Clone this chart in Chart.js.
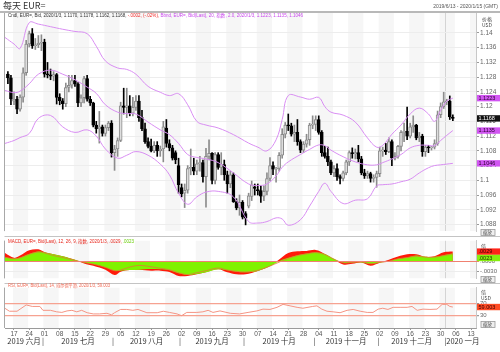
<!DOCTYPE html>
<html>
<head>
<meta charset="utf-8">
<title>每天 EUR=</title>
<script src="https://cdn.jsdelivr.net/npm/chart.js@4.4.1/dist/chart.umd.min.js"></script>
<style>
  html, body { margin: 0; padding: 0; background: #fff; }
  #wrap { position: relative; width: 500px; height: 352px; overflow: hidden; }
  canvas { position: absolute; left: 0; }
</style>
</head>
<body>
<div id="wrap">
  <canvas id="cPrice" width="500" height="236" style="top:0px"></canvas>
  <canvas id="cMacd" width="500" height="47" style="top:236px"></canvas>
  <canvas id="cRsi" width="500" height="69" style="top:283px"></canvas>
</div>
<script>
// ---- data (trading-day index, 0 = Mon 2019-06-17) ----
const firstDay = -2; // 2019-06-13
const weekLabels = ['17','24','01','08','15','22','29','05','12','19','26','02','09','16','23','30',
  '07','14','21','28','04','11','18','25','02','09','16','23','30','06','13'];
const monthNames = ['2019 六月','2019 七月','2019 八月','2019 九月','2019 十月','2019 十一月','2019 十二月','2020 一月'];
const monthStart = [-2, 10, 33, 55, 76, 99, 120, 142];

const openP = [
  1.1288,1.1278,1.1215,1.1220,1.1193,1.1226,1.1292,1.1370,1.1398,1.1365,
  1.1368,1.1372,1.1375,1.1288,1.1286,1.1283,1.1287,1.1225,1.1216,1.1208,
  1.1252,1.1258,1.1271,1.1262,1.1210,1.1224,1.1276,1.1220,1.1210,1.1150,
  1.1140,1.1145,1.1127,1.1143,1.1155,1.1075,1.1085,1.1108,1.1202,1.1198,
  1.1202,1.1182,1.1198,1.1215,1.1170,1.1140,1.1105,1.1092,1.1080,1.1095,
  1.1080,1.1085,1.1142,1.1100,1.1088,1.1075,1.1040,1.0980,1.0965,1.0973,
  1.1032,1.1035,1.1025,1.1045,1.1048,1.1010,1.1065,1.1073,1.1000,1.1070,
  1.1035,1.1043,1.1015,1.0990,1.1015,1.0942,1.0925,1.0940,1.0910,1.0930,
  1.0956,1.0982,1.0975,1.0972,1.0957,1.0970,1.1005,1.1040,1.1030,1.1032,
  1.1068,1.1125,1.1150,1.1148,1.1125,1.1130,1.1105,1.1082,1.1098,1.1110,
  1.1150,1.1152,1.1165,1.1130,1.1075,1.1065,1.1050,1.1020,1.1032,1.1010,
  1.1005,1.1020,1.1050,1.1075,1.1072,1.1075,1.1058,1.1020,1.1012,1.1018,
  1.1005,1.1008,1.1018,1.1080,1.1082,1.1078,1.1105,1.1060,1.1065,1.1092,
  1.1130,1.1133,1.1120,1.1145,1.1150,1.1115,1.1120,1.1078,1.1090,1.1088,
  1.1090,1.1100,1.1178,1.1200,1.1213,1.1215,1.1170];
const highP = [
  1.1295,1.1285,1.1240,1.1228,1.1232,1.1305,1.1380,1.1405,1.1412,1.1385,
  1.1393,1.1395,1.1383,1.1320,1.1302,1.1295,1.1290,1.1235,1.1222,1.1264,
  1.1285,1.1285,1.1285,1.1265,1.1232,1.1282,1.1285,1.1228,1.1212,1.1160,
  1.1187,1.1150,1.1150,1.1160,1.1162,1.1095,1.1115,1.1212,1.1250,1.1250,
  1.1230,1.1225,1.1230,1.1230,1.1190,1.1155,1.1115,1.1112,1.1105,1.1105,
  1.1093,1.1160,1.1165,1.1110,1.1095,1.1080,1.1060,1.0990,1.0990,1.1040,
  1.1085,1.1060,1.1055,1.1065,1.1055,1.1087,1.1110,1.1075,1.1075,1.1075,
  1.1075,1.1055,1.1025,1.1025,1.1020,1.0950,1.0960,1.0945,1.0915,1.0965,
  1.0998,1.0990,1.0990,1.0985,1.0985,1.1020,1.1062,1.1050,1.1035,1.1075,
  1.1140,1.1157,1.1180,1.1155,1.1150,1.1165,1.1110,1.1105,1.1125,1.1155,
  1.1175,1.1175,1.1175,1.1135,1.1092,1.1090,1.1055,1.1040,1.1045,1.1015,
  1.1025,1.1055,1.1080,1.1088,1.1085,1.1095,1.1065,1.1030,1.1025,1.1022,
  1.1015,1.1025,1.1090,1.1090,1.1100,1.1115,1.1110,1.1075,1.1095,1.1135,
  1.1155,1.1199,1.1155,1.1175,1.1152,1.1130,1.1125,1.1095,1.1095,1.1092,
  1.1110,1.1188,1.1210,1.1239,1.1220,1.1229,1.1178];
const lowP = [
  1.1262,1.1205,1.1205,1.1181,1.1188,1.1212,1.1285,1.1362,1.1358,1.1355,
  1.1360,1.1352,1.1280,1.1278,1.1273,1.1270,1.1207,1.1205,1.1193,1.1200,
  1.1240,1.1250,1.1255,1.1200,1.1200,1.1210,1.1215,1.1203,1.1145,1.1128,
  1.1101,1.1120,1.1120,1.1135,1.1063,1.1027,1.1065,1.1105,1.1180,1.1170,
  1.1175,1.1175,1.1190,1.1160,1.1135,1.1100,1.1088,1.1077,1.1075,1.1065,
  1.1065,1.1050,1.1090,1.1080,1.1055,1.1045,1.0965,1.0955,1.0926,1.0965,
  1.1015,1.1015,1.1015,1.1025,1.0995,1.0927,1.1055,1.0990,1.0990,1.1030,
  1.1015,1.1000,1.0965,1.0980,1.0940,1.0920,1.0905,1.0895,1.0879,1.0925,
  1.0945,1.0960,1.0960,1.0940,1.0945,1.0960,1.0998,1.1015,1.0995,1.1025,
  1.1060,1.1115,1.1135,1.1120,1.1105,1.1095,1.1075,1.1075,1.1090,1.1095,
  1.1140,1.1135,1.1125,1.1065,1.1060,1.1040,1.1015,1.1010,1.1000,1.0990,
  1.0998,1.1015,1.1040,1.1060,1.1058,1.1050,1.1015,1.1005,1.1005,1.0995,
  1.0995,1.0981,1.1010,1.1065,1.1070,1.1075,1.1040,1.1055,1.1060,1.1080,
  1.1105,1.1110,1.1115,1.1130,1.1110,1.1105,1.1065,1.1065,1.1075,1.1082,
  1.1085,1.1095,1.1170,1.1195,1.1205,1.1165,1.1162];
const closeP = [
  1.1278,1.1221,1.1220,1.1193,1.1226,1.1292,1.1370,1.1398,1.1365,1.1368,
  1.1372,1.1372,1.1288,1.1286,1.1283,1.1287,1.1225,1.1216,1.1208,1.1252,
  1.1258,1.1271,1.1262,1.1210,1.1224,1.1276,1.1220,1.1210,1.1150,1.1140,
  1.1145,1.1127,1.1143,1.1155,1.1075,1.1085,1.1108,1.1202,1.1198,1.1202,
  1.1182,1.1198,1.1215,1.1170,1.1140,1.1105,1.1092,1.1080,1.1095,1.1080,
  1.1085,1.1145,1.1100,1.1088,1.1060,1.1055,1.0988,1.0963,1.0973,1.1032,
  1.1035,1.1025,1.1045,1.1048,1.1010,1.1065,1.1073,1.1000,1.1070,1.1035,
  1.1043,1.1015,1.0990,1.1015,1.0942,1.0925,1.0940,1.0900,1.0897,1.0958,
  1.0988,1.0978,1.0972,1.0957,1.0970,1.1005,1.1040,1.1030,1.1032,1.1068,
  1.1125,1.1150,1.1148,1.1125,1.1130,1.1105,1.1082,1.1098,1.1110,1.1150,
  1.1152,1.1165,1.1130,1.1075,1.1065,1.1050,1.1020,1.1032,1.1010,1.1005,
  1.1020,1.1050,1.1075,1.1072,1.1075,1.1058,1.1020,1.1012,1.1018,1.1005,
  1.1008,1.1018,1.1080,1.1082,1.1078,1.1105,1.1060,1.1065,1.1092,1.1130,
  1.1133,1.1120,1.1145,1.1150,1.1115,1.1120,1.1078,1.1090,1.1088,1.1090,
  1.1100,1.1178,1.1200,1.1213,1.1215,1.1172,1.1168];

// Bollinger band (20, 2.0)
const bbX = [-3,0,2,5,8,12,16,20,24,27,30,34,37,40,44,48,51,54,57,60,63,67,72,77,80,
  83,86,88,90,94,97,100,102,104,108,112,116,119,121,124,127,130,133,136,138,140,142,144];
const bbUpper = [1.1388,1.1370,1.1358,1.1428,1.1424,1.1417,1.1410,1.1404,1.1398,1.1364,
  1.1324,1.1305,1.1301,1.1288,1.1255,1.1239,1.1230,1.1235,1.1205,1.1160,1.1150,1.1142,
  1.1124,1.1101,1.1090,1.1080,1.1110,1.1165,1.1230,1.1226,1.1220,1.1225,1.1200,1.1185,
  1.1177,1.1158,1.1115,1.1090,1.1095,1.1125,1.1150,1.1180,1.1196,1.1180,1.1160,1.1190,1.1215,1.1223];
const bbMid = [1.1244,1.1238,1.1242,1.1262,1.1288,1.1299,1.1288,1.1273,1.1253,1.1236,
  1.1205,1.1185,1.1181,1.1180,1.1158,1.1137,1.1124,1.1100,1.1070,1.1062,1.1058,1.1048,
  1.1020,1.0990,1.0986,1.0990,1.1012,1.1035,1.1050,1.1070,1.1084,1.1096,1.1094,1.1082,
  1.1064,1.1050,1.1042,1.1042,1.1048,1.1058,1.1070,1.1088,1.1095,1.1095,1.1094,1.1108,1.1122,1.1135];
const bbLower = [1.1100,1.1108,1.1116,1.1127,1.1168,1.1176,1.1145,1.1130,1.1137,1.1120,
  1.1085,1.1060,1.1068,1.1078,1.1068,1.1044,1.1015,1.0965,1.0935,1.0955,1.0968,1.0970,
  1.0955,1.0888,1.0884,1.0888,1.0898,1.0895,1.0878,1.0893,1.0930,1.0970,1.0992,1.0970,
  1.0937,1.0946,1.0950,1.0985,1.0988,1.0990,1.0996,1.1003,1.1020,1.1034,1.1040,1.1042,1.1044,1.1046];

// MACD (12, 26, 9)
const macdX = [-3,0,2,5,8,10,13,16,20,23,26,30,33,35,38,41,45,48,51,54,57,60,63,67,70,
  73,76,80,84,87,90,93,96,99,102,105,108,111,114,117,120,123,126,129,132,135,138,141,144];
const macdRed = [0.0025,0.0010,0.0017,0.0033,0.0036,0.0028,0.0021,0.0015,0.0004,-0.0007,
  -0.0014,-0.0026,-0.0042,-0.0032,-0.0027,-0.0026,-0.0029,-0.0029,-0.0033,-0.0045,
  -0.0045,-0.0040,-0.0034,-0.0025,-0.0034,-0.0040,-0.0040,-0.0030,-0.0015,0.0005,
  0.0025,0.0030,0.0031,0.0034,0.0022,0.0005,-0.0010,-0.0008,-0.0004,-0.0014,
  -0.0005,0.0004,0.0014,0.0021,0.0021,0.0013,0.0015,0.0027,0.0029];
const macdGreen = [0.0012,0.0008,0.0011,0.0022,0.0029,0.0027,0.0021,0.0015,0.0004,-0.0004,
  -0.0009,-0.0019,-0.0029,-0.0029,-0.0027,-0.0026,-0.0024,-0.0025,-0.0028,-0.0037,
  -0.0042,-0.0039,-0.0034,-0.0025,-0.0028,-0.0032,-0.0034,-0.0030,-0.0015,0.0000,
  0.0010,0.0018,0.0023,0.0027,0.0022,0.0007,-0.0005,-0.0004,-0.0004,-0.0008,
  -0.0004,0.0000,0.0007,0.0011,0.0017,0.0013,0.0013,0.0018,0.0023];
const macdSignal = [0.0012,0.0007,0.0010,0.0021,0.0028,0.0025,0.0017,0.0011,0.0002,-0.0004,
  -0.0009,-0.0019,-0.0029,-0.0027,-0.0018,-0.0013,-0.0017,-0.0022,-0.0026,-0.0035,
  -0.0041,-0.0035,-0.0029,-0.0021,-0.0027,-0.0031,-0.0033,-0.0028,-0.0015,-0.0003,
  0.0008,0.0017,0.0022,0.0026,0.0020,0.0006,-0.0005,-0.0004,-0.0002,-0.0008,
  -0.0004,0.0000,0.0007,0.0011,0.0015,0.0012,0.0012,0.0017,0.0022];

// RSI (14)
const rsiX = [-3,-1.5,1,2,4,6,8.5,9.5,12,14,15.7,17.4,19,20.6,22.2,24,26,28,30.5,32,33,35,37,39,40.7,
  43.6,47,49,51,53.5,55,56.7,60,62,63.7,65.3,67.6,71,74,76.8,79.7,81.7,84,86.3,88.3,90.6,92.9,94.8,
  98,99.4,101,102.7,104.7,107,109.3,111.3,113.6,115.9,117.8,119.5,121,122.7,124.4,126.7,129,130.6,
  132.3,134.2,136.5,138.8,140.5,142,143,144];
const rsiV = [55,45,45,52,66,61,61,48,48,43,41,46,48,43,48,40,36,36,38,33,40,51,51,48,51,
  40,40,45,41,36,30,41,41,43,48,41,46,38,36,41,46,52,51,58,68,63,58,55,
  61,63,52,45,43,40,48,51,45,41,41,52,55,51,58,58,58,61,
  48,52,51,52,68,68,61,59.003];

// ---- layout / style ----
const X_MIN = -2.95, X_MAX = 151.6;
const SANS = '"Liberation Sans", "Noto Sans CJK SC", sans-serif';
const CJK = '"Noto Sans CJK SC", "Liberation Sans", sans-serif';
const BB_COLOR = '#d98ef3';
Chart.defaults.font.family = SANS;
Chart.defaults.animation = false;

const pts = (xs, ys) => xs.map((x, i) => ({ x, y: ys[i] }));
const weekIdx = weekLabels.map((_, i) => i * 5);
const dayX = closeP.map((_, i) => i + firstDay);
const isUp = closeP.map((c, i) => c >= openP[i]);

function rightAxis(extra) {
  return Object.assign({
    position: 'right',
    afterFit: s => { s.width = 24; },
    ticks: { color: '#666', font: { size: 6.5 }, padding: 1 },
    grid: { color: '#ededed', tickLength: 3, tickColor: '#999' },
    border: { color: '#c8c8c8' }
  }, extra);
}
const hiddenX = { type: 'linear', min: X_MIN, max: X_MAX, display: false, offset: false };

// weekly shading + year divider
function paper(chart) {
  const { ctx, chartArea: a, scales: { x } } = chart;
  ctx.save();
  ctx.beginPath();
  ctx.rect(a.left, a.top, a.right - a.left, a.bottom - a.top);
  ctx.clip();
  ctx.fillStyle = '#f6f6f6';
  weekIdx.forEach((w, i) => {
    if (i % 2) return;
    const x0 = x.getPixelForValue(w - 0.35), x1 = x.getPixelForValue(w + 4.65);
    ctx.fillRect(x0, a.top, x1 - x0, a.bottom - a.top);
  });
  const xy = Math.round(x.getPixelForValue(monthStart[7] - 0.5)) + 0.5;
  ctx.strokeStyle = '#d4d4d4';
  ctx.lineWidth = 1;
  ctx.beginPath(); ctx.moveTo(xy, a.top); ctx.lineTo(xy, a.bottom); ctx.stroke();
  ctx.restore();
}

function frame(chart, topLine) {
  const { ctx, chartArea: a } = chart;
  ctx.save();
  ctx.strokeStyle = '#a8a8a8';
  ctx.lineWidth = 1;
  ctx.beginPath(); ctx.moveTo(4.5, a.top); ctx.lineTo(4.5, a.bottom); ctx.stroke();
  if (topLine) {
    ctx.strokeStyle = '#c4c4c4';
    ctx.beginPath(); ctx.moveTo(4.5, 0.5); ctx.lineTo(500, 0.5); ctx.stroke();
  }
  ctx.restore();
}

// coloured text runs squeezed to a given width
function runs(ctx, parts, x, y, width, size) {
  ctx.save();
  ctx.font = size + 'px ' + SANS;
  ctx.textBaseline = 'middle';
  let total = 0;
  parts.forEach(p => { total += ctx.measureText(p[0]).width; });
  ctx.translate(x, y);
  ctx.scale(width / total, 1);
  let cx = 0;
  parts.forEach(p => {
    ctx.fillStyle = p[1];
    ctx.fillText(p[0], cx, 0);
    cx += ctx.measureText(p[0]).width;
  });
  ctx.restore();
}

function tags(chart, list) {
  const { ctx, scales: { y } } = chart;
  ctx.save();
  ctx.font = '5.5px ' + SANS;
  ctx.textBaseline = 'middle';
  let prev = -99;
  list.forEach(t => {
    const cy = Math.max(y.getPixelForValue(t.v), prev + 6.4);
    prev = cy;
    ctx.fillStyle = t.bg;
    ctx.fillRect(477, cy - 3.2, 23, 6.4);
    ctx.fillStyle = t.fg;
    ctx.fillText(t.text, 478.5, cy + 0.3);
  });
  ctx.restore();
}

function smallText(ctx, lines, x, y0, step) {
  ctx.save();
  ctx.font = '5px ' + CJK;
  ctx.fillStyle = '#444';
  ctx.textBaseline = 'middle';
  lines.forEach((s, i) => ctx.fillText(s, x, y0 + i * step));
  ctx.restore();
}

function zoomBox(ctx, y) {
  ctx.save();
  ctx.fillStyle = '#efefef';
  ctx.strokeStyle = '#9a9a9a';
  ctx.lineWidth = 0.8;
  ctx.fillRect(481, y, 14, 6);
  ctx.strokeRect(481, y, 14, 6);
  ctx.font = '4.5px ' + CJK;
  ctx.fillStyle = '#444';
  ctx.textBaseline = 'middle';
  ctx.fillText('缩放', 483, y + 3.2);
  ctx.restore();
}

// ---- price panel ----
const pricePlugin = {
  id: 'pricePaper',
  beforeDraw: paper,
  afterDraw(chart) {
    const { ctx } = chart;
    frame(chart, false);
    ctx.save();
    ctx.textBaseline = 'middle';
    ctx.font = '9px ' + CJK;
    ctx.fillStyle = '#333';
    ctx.fillText('每天 EUR=', 3, 6);
    ctx.font = '5px ' + SANS;
    ctx.fillStyle = '#555';
    ctx.textAlign = 'right';
    ctx.fillText('2019/6/13 - 2020/1/15 (GMT)', 498, 7);
    ctx.strokeStyle = '#a0a0a0';
    ctx.lineWidth = 1.5;
    ctx.beginPath(); ctx.moveTo(0, 12); ctx.lineTo(500, 12); ctx.stroke();
    ctx.restore();
    runs(ctx, [
      ['Cndl, EUR=, Bid, 2020/1/3, 1.1170, 1.1178, 1.1162, 1.1168, ', '#333'],
      ['-.0002, (-.02%), ', '#f02828'],
      ['Bbnd, EUR=, Bid(Last), 20, 指数, 2.0, 2020/1/3, 1.1223, 1.1135, 1.1046', '#c845ec']
    ], 8, 15.5, 295, 5);
    smallText(ctx, ['价格', 'USD'], 482, 19, 6);
    tags(chart, [
      { v: 1.1223, text: '1.1223', bg: '#d155f2', fg: '#2a002e' },
      { v: 1.1168, text: '1.1168', bg: '#111', fg: '#fff' },
      { v: 1.1135, text: '1.1135', bg: '#d155f2', fg: '#2a002e' },
      { v: 1.1046, text: '1.1046', bg: '#d155f2', fg: '#2a002e' }
    ]);
    zoomBox(ctx, 229.5);
  }
};

const bbLine = ys => ({
  type: 'line', data: pts(bbX, ys), borderColor: BB_COLOR, borderWidth: 1,
  pointRadius: 0, tension: 0.4, fill: false, order: 0
});

new Chart(document.getElementById('cPrice'), {
  type: 'line',
  data: {
    datasets: [
      bbLine(bbUpper), bbLine(bbMid), bbLine(bbLower),
      {
        type: 'bar', label: 'wick',
        data: dayX.map((x, i) => ({ x, y: [lowP[i], highP[i]] })),
        backgroundColor: isUp.map(u => u ? '#8c8c8c' : '#000'),
        barThickness: 1, grouped: false, order: 2
      },
      {
        type: 'bar', label: 'body',
        data: dayX.map((x, i) => ({ x, y: [openP[i], closeP[i]] })),
        backgroundColor: isUp.map(u => u ? '#dedede' : '#000'),
        borderColor: isUp.map(u => u ? '#8a8a8a' : '#000'),
        borderWidth: 1, borderSkipped: false, minBarLength: 1,
        barThickness: 3, grouped: false, order: 1
      }
    ]
  },
  options: {
    responsive: false,
    layout: { padding: { left: 5, right: 0, top: 13, bottom: 1 } },
    plugins: { legend: { display: false }, tooltip: { enabled: false } },
    scales: {
      x: hiddenX,
      y: rightAxis({
        min: 1.086213, max: 1.145413,
        afterBuildTicks: s => { s.ticks = s.ticks.filter(t => t.value < 1.1415); },
        ticks: { stepSize: 0.004, includeBounds: false, color: '#666', font: { size: 6.5 }, padding: 1,
          callback: v => String(+v.toFixed(3)) }
      })
    }
  },
  plugins: [pricePlugin]
});

// ---- MACD panel ----
const macdPlugin = {
  id: 'macdPaper',
  beforeDraw: paper,
  afterDatasetsDraw(chart) {
    const { ctx, chartArea: a, scales: { y } } = chart;
    const y0 = Math.round(y.getPixelForValue(0)) + 0.5;
    ctx.save();
    ctx.strokeStyle = '#f08070';
    ctx.lineWidth = 1;
    ctx.beginPath(); ctx.moveTo(a.left, y0); ctx.lineTo(a.right + 3, y0); ctx.stroke();
    ctx.restore();
  },
  afterDraw(chart) {
    const { ctx } = chart;
    frame(chart, true);
    runs(ctx, [
      ['MACD, EUR=, Bid(Last), 12, 26, 9, 指数, 2020/1/3, .0029, ', '#e8261c'],
      ['.0023', '#66cc00']
    ], 8, 6, 126, 5);
    smallText(ctx, ['倍'], 481, 10, 6);
    tags(chart, [
      { v: 0.0029, text: '.0029', bg: '#ff2418', fg: '#3a0000' },
      { v: 0.0023, text: '.0023', bg: '#86ee10', fg: '#143000' }
    ]);
    zoomBox(ctx, 40.5);
  }
};

new Chart(document.getElementById('cMacd'), {
  type: 'line',
  data: {
    datasets: [
      { data: pts(macdX, macdRed), fill: 'origin', backgroundColor: '#ff1a0a',
        borderWidth: 0, pointRadius: 0, tension: 0.35, order: 3 },
      { data: pts(macdX, macdGreen), fill: 'origin', backgroundColor: '#80f200',
        borderWidth: 0, pointRadius: 0, tension: 0.35, order: 2 },
      { data: pts(macdX, macdSignal), fill: false, borderColor: '#df7a34',
        borderWidth: 0.8, pointRadius: 0, tension: 0.35, order: 1 }
    ]
  },
  options: {
    responsive: false,
    layout: { padding: { left: 5, right: 0, top: 0, bottom: 1 } },
    plugins: { legend: { display: false }, tooltip: { enabled: false } },
    scales: {
      x: hiddenX,
      y: rightAxis({
        min: -0.00525, max: 0.00625,
        afterBuildTicks: s => { s.ticks = [{ value: -0.003 }, { value: 0 }]; },
        ticks: { color: '#666', font: { size: 6 }, padding: 1,
          callback: v => (v === 0 ? '.0000' : '-.0030') },
        grid: { color: c => (c.tick && c.tick.value === 0 ? 'rgba(0,0,0,0)' : '#ededed'),
          tickLength: 3, tickColor: '#999' }
      })
    }
  },
  plugins: [macdPlugin]
});

// ---- RSI panel ----
const rsiPlugin = {
  id: 'rsiPaper',
  beforeDraw: paper,
  afterDraw(chart) {
    const { ctx, chartArea: a, scales: { x } } = chart;
    frame(chart, true);
    runs(ctx, [['RSI, EUR=, Bid(Last), 14, 威尔德平滑, 2020/1/3, 59.003', '#f06a55']], 8, 2.8, 102, 5);
    smallText(ctx, ['倍', 'USD'], 481, 9, 6);
    tags(chart, [{ v: 59.003, text: '59.003', bg: '#ff4c24', fg: '#3a0000' }]);
    zoomBox(ctx, 38.5);
    // month row
    ctx.save();
    ctx.font = '7.5px ' + CJK;
    ctx.fillStyle = '#333';
    ctx.textBaseline = 'middle';
    const yM = 58;
    const bounds = monthStart.slice(1).map(m => x.getPixelForValue(m - 0.5));
    monthNames.forEach((name, i) => {
      if (i === monthNames.length - 1) {
        ctx.textAlign = 'left';
        ctx.fillText('|' + name, bounds[i - 1] - 1, yM);
        return;
      }
      const left = i === 0 ? a.left : bounds[i - 1];
      ctx.textAlign = 'center';
      ctx.fillText(name, (left + bounds[i]) / 2, yM);
      if (i < monthNames.length - 2) ctx.fillText('|', bounds[i], yM);
    });
    ctx.restore();
  }
};

new Chart(document.getElementById('cRsi'), {
  type: 'line',
  data: {
    datasets: [
      { data: pts(rsiX, rsiV), borderColor: '#f59584', borderWidth: 1, pointRadius: 0,
        tension: 0, fill: false }
    ]
  },
  options: {
    responsive: false,
    layout: { padding: { left: 5, right: 0, top: 0, bottom: 0 } },
    plugins: { legend: { display: false }, tooltip: { enabled: false } },
    scales: {
      x: {
        type: 'linear', min: X_MIN, max: X_MAX, offset: false,
        afterBuildTicks: s => { s.ticks = weekIdx.map(v => ({ value: v })); },
        afterFit: s => { s.height = 24; },
        ticks: { autoSkip: false, maxRotation: 0, padding: 0, color: '#555', font: { size: 6.5 },
          callback: (v, i) => weekLabels[i] },
        grid: { drawOnChartArea: false, tickLength: 2, tickColor: '#999' },
        border: { color: '#9a9a9a' }
      },
      y: rightAxis({
        min: -11.2, max: 124.1,
        afterBuildTicks: s => { s.ticks = [{ value: 30 }, { value: 70 }]; },
        ticks: { color: '#666', font: { size: 6 }, padding: 1, callback: v => String(v) },
        grid: { color: '#f6a291', lineWidth: 1.3, tickLength: 3, tickColor: '#999' }
      })
    }
  },
  plugins: [rsiPlugin]
});
</script>
</body>
</html>
